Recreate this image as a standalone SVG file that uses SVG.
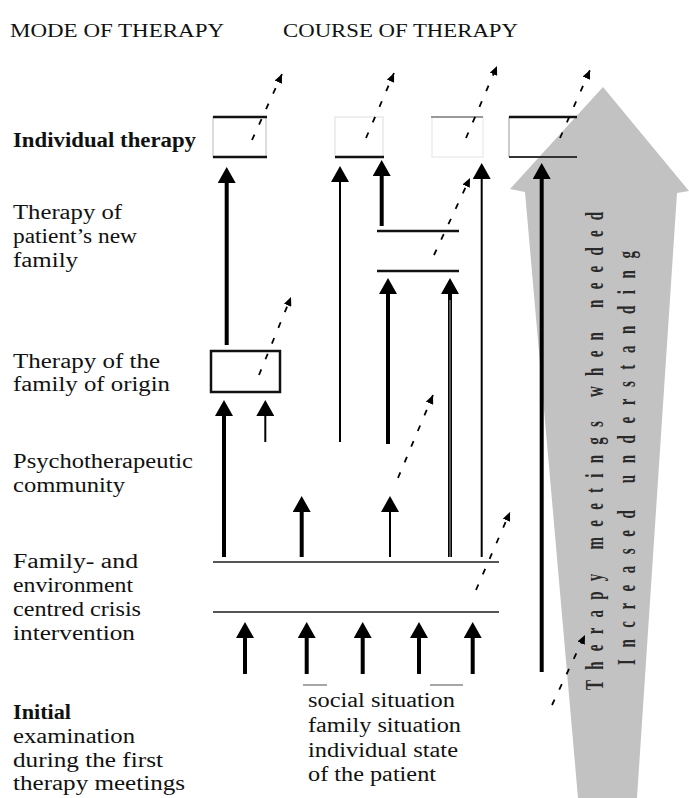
<svg xmlns="http://www.w3.org/2000/svg" width="689" height="798" viewBox="0 0 689 798">
<style>
.lbl{font-family:"Liberation Serif","Times New Roman",serif;font-size:20.5px;fill:#111}
.ttl{font-family:"Liberation Serif","Times New Roman",serif;font-size:18px;fill:#111}
.b{font-weight:bold}
.vt{font-family:"Liberation Serif","Times New Roman",serif;font-size:25px;font-weight:bold;fill:#2a2a2a}
.thick{stroke:#000;stroke-width:4;fill:none;marker-end:url(#ah)}
.thin{stroke:#000;stroke-width:2;fill:none;marker-end:url(#ah)}
.dash{stroke:#000;stroke-width:1.8;stroke-dasharray:6 11;fill:none;marker-end:url(#dh)}
.hl{stroke:#111;stroke-width:2.5}
.faint{stroke:#bbb;stroke-width:1;fill:none}
.gl{stroke:#555;stroke-width:2}
</style>
<defs>
<marker id="ah" markerUnits="userSpaceOnUse" viewBox="0 0 16 18" refX="0" refY="9" markerWidth="16" markerHeight="18" orient="auto">
<path d="M0,0 L16,9 L0,18 z" fill="#000"/>
</marker>
<marker id="dh" markerUnits="userSpaceOnUse" viewBox="0 0 9 8" refX="9" refY="4" markerWidth="9" markerHeight="8" orient="auto">
<path d="M0,0 L9,4 L0,8 z" fill="#000"/>
</marker>
</defs>
<rect width="689" height="798" fill="#fff"/>

<g id="gray-arrow">
<polygon points="603,87 689,191 677,193 637,798 578,798 525,192 510,189" fill="#c2c2c2"/>
<text class="vt" transform="translate(603,690) rotate(-90) scale(0.6,1)" textLength="797" lengthAdjust="spacing">Therapy meetings when needed</text>
<text class="vt" transform="translate(635,665) rotate(-90) scale(0.6,1)" textLength="690" lengthAdjust="spacing">Increased understanding</text>
</g>

<g id="titles">
<text class="ttl" x="10" y="37" textLength="214" lengthAdjust="spacingAndGlyphs">MODE OF THERAPY</text>
<text class="ttl" x="283" y="37" textLength="235" lengthAdjust="spacingAndGlyphs">COURSE OF THERAPY</text>
</g>

<g id="label-individual">
<text class="lbl b" x="13" y="147" textLength="183" lengthAdjust="spacingAndGlyphs">Individual therapy</text>
</g>
<g id="label-newfamily">
<text class="lbl" x="13" y="219" textLength="109" lengthAdjust="spacingAndGlyphs">Therapy of</text>
<text class="lbl" x="13" y="243" textLength="124" lengthAdjust="spacingAndGlyphs">patient’s new</text>
<text class="lbl" x="13" y="267" textLength="65" lengthAdjust="spacingAndGlyphs">family</text>
</g>
<g id="label-origin">
<text class="lbl" x="13" y="368" textLength="147" lengthAdjust="spacingAndGlyphs">Therapy of the</text>
<text class="lbl" x="13" y="391" textLength="157" lengthAdjust="spacingAndGlyphs">family of origin</text>
</g>
<g id="label-community">
<text class="lbl" x="13" y="468" textLength="180" lengthAdjust="spacingAndGlyphs">Psychotherapeutic</text>
<text class="lbl" x="13" y="492" textLength="112" lengthAdjust="spacingAndGlyphs">community</text>
</g>
<g id="label-crisis">
<text class="lbl" x="13" y="568" textLength="125" lengthAdjust="spacingAndGlyphs">Family- and</text>
<text class="lbl" x="13" y="592" textLength="120" lengthAdjust="spacingAndGlyphs">environment</text>
<text class="lbl" x="13" y="616" textLength="128" lengthAdjust="spacingAndGlyphs">centred crisis</text>
<text class="lbl" x="13" y="640" textLength="122" lengthAdjust="spacingAndGlyphs">intervention</text>
</g>
<g id="label-initial">
<text class="lbl b" x="13" y="719" textLength="58" lengthAdjust="spacingAndGlyphs">Initial</text>
<text class="lbl" x="13" y="743" textLength="122" lengthAdjust="spacingAndGlyphs">examination</text>
<text class="lbl" x="13" y="767" textLength="150" lengthAdjust="spacingAndGlyphs">during the first</text>
<text class="lbl" x="13" y="790" textLength="172" lengthAdjust="spacingAndGlyphs">therapy meetings</text>
</g>
<g id="label-situation">
<line x1="303" y1="685" x2="327" y2="685" stroke="#888" stroke-width="1.5"/>
<line x1="430" y1="685" x2="463" y2="685" stroke="#888" stroke-width="1.5"/>
<text class="lbl" x="308" y="707" textLength="147" lengthAdjust="spacingAndGlyphs">social situation</text>
<text class="lbl" x="308" y="732" textLength="153" lengthAdjust="spacingAndGlyphs">family situation</text>
<text class="lbl" x="308" y="757" textLength="150" lengthAdjust="spacingAndGlyphs">individual state</text>
<text class="lbl" x="308" y="781" textLength="128" lengthAdjust="spacingAndGlyphs">of the patient</text>
</g>

<g id="box-individual-1">
<rect x="213" y="117" width="53" height="40" class="faint"/>
<line x1="213" y1="117" x2="267" y2="117" class="hl"/>
<line x1="213" y1="157" x2="267" y2="157" class="hl"/>
</g>
<g id="box-individual-2">
<rect x="335" y="117" width="48" height="40" stroke="#ddd" stroke-width="1" fill="none"/>
<line x1="335" y1="157" x2="384" y2="157" class="hl"/>
</g>
<g id="box-individual-3">
<rect x="432" y="117" width="51" height="40" stroke="#e4e4e4" stroke-width="1" fill="none"/>
<line x1="431" y1="117" x2="483" y2="117" stroke="#999" stroke-width="2"/>
</g>
<g id="box-individual-4">
<line x1="509" y1="117" x2="509" y2="157" stroke="#999" stroke-width="1"/>
<line x1="509" y1="117" x2="577" y2="117" class="hl"/>
<line x1="509" y1="157" x2="577" y2="157" stroke="#333" stroke-width="2"/>
</g>
<g id="box-newfamily">
<line x1="377" y1="231" x2="459" y2="231" class="hl"/>
<line x1="377" y1="271" x2="459" y2="271" class="hl"/>
</g>
<g id="box-origin">
<rect x="211" y="351" width="69" height="41" fill="none" stroke="#111" stroke-width="2.5"/>
</g>
<g id="box-crisis">
<line x1="213" y1="562" x2="499" y2="562" class="gl"/>
<line x1="213" y1="612" x2="499" y2="612" class="gl"/>
</g>

<g id="connectors">
<line x1="226.7" y1="345" x2="226.7" y2="183" class="thick"/>
<line x1="340" y1="442" x2="340" y2="182" class="thin"/>
<line x1="381.7" y1="226" x2="381.7" y2="176" class="thick"/>
<line x1="481.7" y1="557" x2="481.7" y2="179" class="thin"/>
<line x1="541.7" y1="672" x2="541.7" y2="179" class="thick"/>
<line x1="388" y1="444" x2="388" y2="294" class="thick"/>
<line x1="450" y1="557" x2="450" y2="294" class="thick"/>
<line x1="450" y1="557" x2="450" y2="300" stroke="#aaa" stroke-width="1"/>
<line x1="224" y1="557" x2="224" y2="416" class="thick"/>
<line x1="265.3" y1="442" x2="265.3" y2="416" class="thin"/>
<line x1="301.7" y1="557" x2="301.7" y2="512" class="thick"/>
<line x1="390" y1="557" x2="390" y2="512" class="thin"/>
<line x1="245" y1="674" x2="245" y2="638" class="thick"/>
<line x1="306.7" y1="674" x2="306.7" y2="638" class="thick"/>
<line x1="362.7" y1="674" x2="362.7" y2="638" class="thick"/>
<line x1="419" y1="674" x2="419" y2="638" class="thick"/>
<line x1="472.7" y1="674" x2="472.7" y2="638" class="thick"/>
<line x1="252" y1="140" x2="282" y2="74" class="dash"/>
<line x1="366" y1="138" x2="394" y2="73" class="dash"/>
<line x1="466" y1="138" x2="497" y2="66" class="dash"/>
<line x1="560" y1="138" x2="590" y2="70" class="dash"/>
<line x1="434" y1="255" x2="470" y2="178" class="dash"/>
<line x1="259" y1="375" x2="291" y2="297" class="dash"/>
<line x1="398" y1="478" x2="433" y2="395" class="dash"/>
<line x1="476" y1="590" x2="510" y2="512" class="dash"/>
<line x1="552" y1="705" x2="585" y2="635" class="dash"/>
</g>
</svg>
